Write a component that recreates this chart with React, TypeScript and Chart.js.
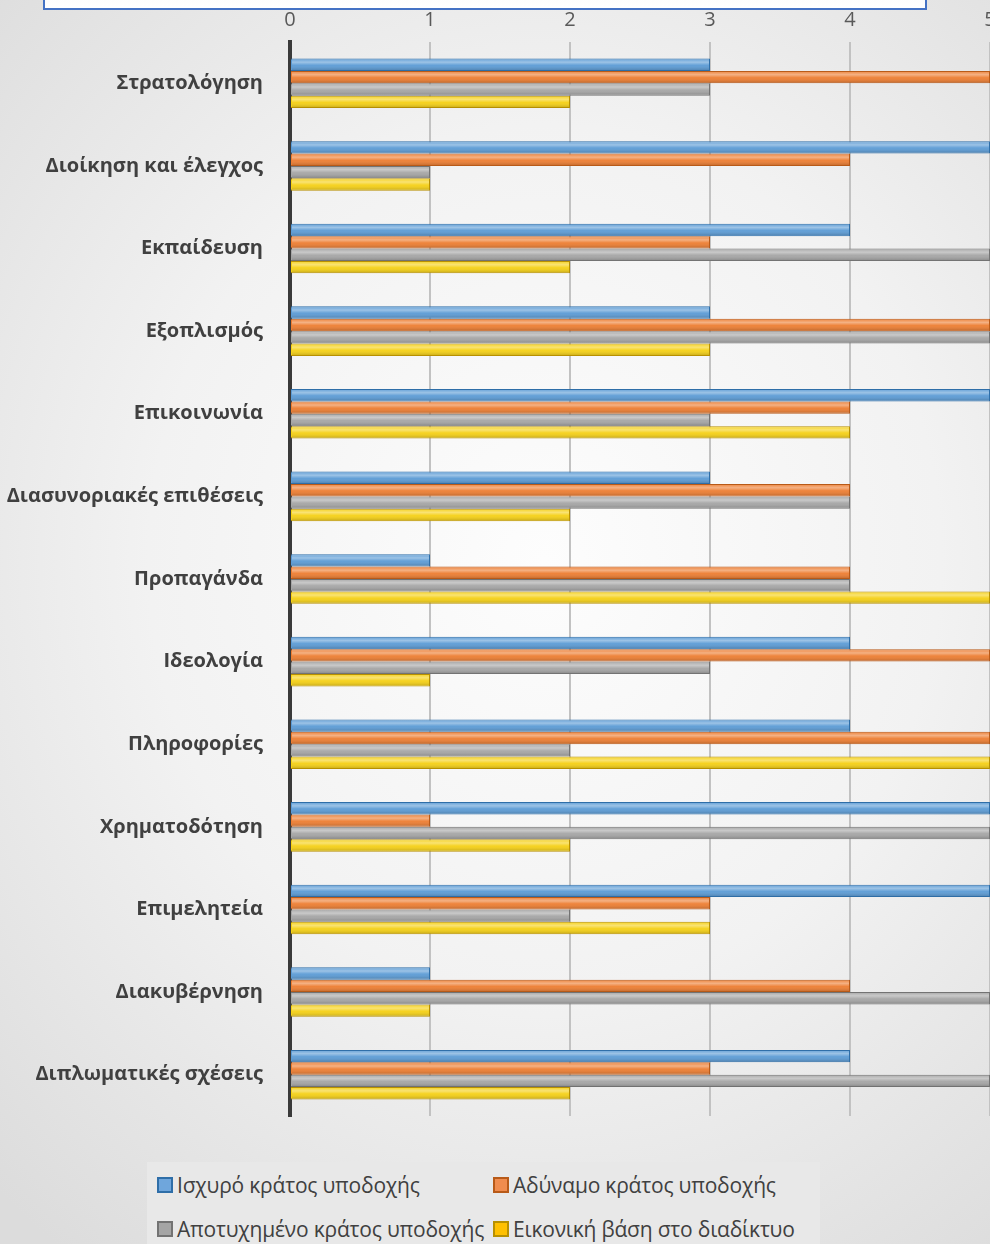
import React, { useEffect, useRef } from "react";
import { Chart, registerables } from "chart.js";

Chart.register(...registerables);

const categories = [
  "Στρατολόγηση",
  "Διοίκηση και έλεγχος",
  "Εκπαίδευση",
  "Εξοπλισμός",
  "Επικοινωνία",
  "Διασυνοριακές επιθέσεις",
  "Προπαγάνδα",
  "Ιδεολογία",
  "Πληροφορίες",
  "Χρηματοδότηση",
  "Επιμελητεία",
  "Διακυβέρνηση",
  "Διπλωματικές σχέσεις",
];

const strongHost = [3, 5, 4, 3, 5, 3, 1, 4, 4, 5, 5, 1, 4];
const weakHost = [5, 4, 3, 5, 4, 4, 4, 5, 5, 1, 3, 4, 3];
const failedHost = [3, 1, 5, 5, 3, 4, 4, 3, 2, 5, 2, 5, 5];
const virtualBase = [2, 1, 2, 3, 4, 2, 5, 1, 5, 2, 3, 1, 2];

const seriesNames = [
  "Ισχυρό κράτος υποδοχής",
  "Αδύναμο κράτος υποδοχής",
  "Αποτυχημένο κράτος υποδοχής",
  "Εικονική βάση στο διαδίκτυο",
];
const seriesFill = ["#5B9BD5", "#ED7D31", "#A5A5A5", "#F5D015"];
const seriesBorder = ["#2E6EA8", "#B85A18", "#737373", "#B89000"];
const legendFill = ["#6FA6DC", "#F08C4E", "#A5A5A5", "#FFC000"];

const xTicks = [0, 1, 2, 3, 4, 5];

const shinePlugin = {
  id: "shine",
  afterDatasetsDraw(chart: any) {
    const ctx = chart.ctx;
    chart.data.datasets.forEach((_ds: any, i: number) => {
      const meta = chart.getDatasetMeta(i);
      meta.data.forEach((bar: any) => {
        const p = bar.getProps(["x", "y", "base", "height"], true);
        const top = p.y - p.height / 2;
        const g = ctx.createLinearGradient(0, top, 0, top + p.height);
        g.addColorStop(0, "rgba(255,255,255,0.05)");
        g.addColorStop(0.3, "rgba(255,255,255,0.4)");
        g.addColorStop(0.55, "rgba(255,255,255,0.05)");
        g.addColorStop(1, "rgba(0,0,0,0.22)");
        ctx.save();
        ctx.fillStyle = g;
        ctx.fillRect(p.base + 1, top + 1, p.x - p.base - 2, p.height - 2);
        ctx.restore();
      });
    });
  },
};

export default function App() {
  const ref = useRef<HTMLCanvasElement | null>(null);

  useEffect(() => {
    if (!ref.current) return;
    const values = [strongHost, weakHost, failedHost, virtualBase];
    const chart = new Chart(ref.current, {
      type: "bar",
      data: {
        labels: categories,
        datasets: values.map((v, i) => ({
          label: seriesNames[i],
          data: v,
          backgroundColor: seriesFill[i],
          borderColor: seriesBorder[i],
          borderWidth: 1,
          categoryPercentage: 0.6,
          barPercentage: 1.0,
        })),
      },
      options: {
        indexAxis: "y",
        responsive: false,
        animation: false,
        maintainAspectRatio: false,
        layout: { padding: { top: 0, right: 20, bottom: 8, left: 0 } },
        plugins: {
          legend: { display: false },
          tooltip: { enabled: false },
          title: { display: false },
        },
        scales: {
          x: {
            position: "top",
            min: 0,
            max: 5,
            afterBuildTicks: (s: any) => {
              s.ticks = xTicks.map((v) => ({ value: v }));
            },
            afterFit: (s: any) => {
              s.height = 42;
            },
            ticks: {
              color: "#595959",
              padding: 10,
              font: { family: "'Open Sans', sans-serif", size: 20 },
            },
            grid: {
              color: "#c2c2c2",
              lineWidth: 2,
              drawTicks: false,
            },
            border: { display: false },
          },
          y: {
            afterFit: (s: any) => {
              s.width = 290;
            },
            ticks: {
              color: "#404040",
              padding: 27,
              font: { family: "'Open Sans', sans-serif", size: 20, weight: "bold" },
            },
            grid: { display: false, drawTicks: false },
            border: { display: true, color: "#3a3a3a", width: 4 },
          },
        },
      },
      plugins: [shinePlugin],
    } as any);
    return () => chart.destroy();
  }, []);

  return (
    <div
      style={{
        position: "absolute",
        left: 0,
        top: 0,
        width: 990,
        height: 1244,
        overflow: "hidden",
        background:
          "radial-gradient(ellipse 80% 70% at 55% 45%, #fdfdfd 0%, #f2f2f2 50%, #dcdcdc 100%)",
        fontFamily: "'Open Sans', sans-serif",
      }}
    >
      <div
        style={{
          position: "absolute",
          left: 43,
          top: -40,
          width: 880,
          height: 46,
          border: "2px solid #4472C4",
          background: "linear-gradient(#f4f4f4, #ffffff)",
        }}
      />
      <canvas
        ref={ref}
        width={1010}
        height={1155}
        style={{ position: "absolute", left: 0, top: 0, width: 1010, height: 1155 }}
      />
      <div
        style={{
          position: "absolute",
          left: 147,
          top: 1162,
          width: 673,
          height: 90,
          background: "#e8e8e8",
        }}
      >
        {seriesNames.map((name, i) => (
          <div
            key={name}
            style={{
              position: "absolute",
              left: i % 2 === 0 ? 10 : 346,
              top: i < 2 ? 9 : 53,
              display: "flex",
              alignItems: "center",
              height: 28,
              whiteSpace: "nowrap",
            }}
          >
            <span
              style={{
                display: "inline-block",
                width: 12,
                height: 12,
                background: legendFill[i],
                border: "2px solid " + seriesBorder[i],
                marginRight: 4,
              }}
            />
            <span style={{ fontSize: 21, color: "#404040", letterSpacing: -0.2 }}>{name}</span>
          </div>
        ))}
      </div>
    </div>
  );
}
